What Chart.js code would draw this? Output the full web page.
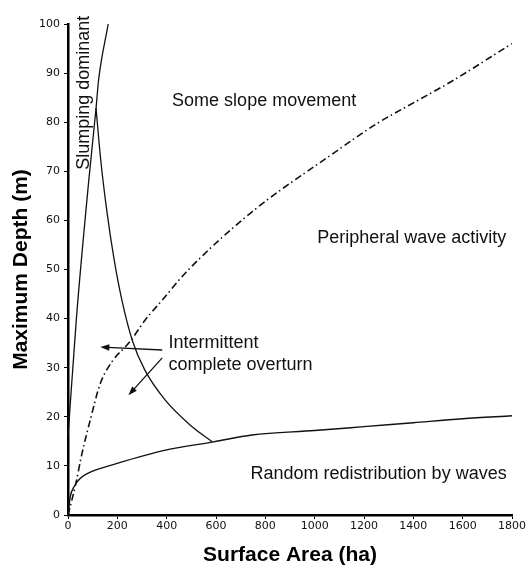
<!DOCTYPE html>
<html lang="en">
<head>
<meta charset="UTF-8">
<title>Maximum depth vs surface area</title>
<script src="https://cdn.jsdelivr.net/npm/chart.js"></script>
<style>
  html, body { margin: 0; padding: 0; background: #fff; }
  .wrap { width: 531px; height: 566px; }
</style>
</head>
<body>
<div class="wrap"><canvas id="depthChart" width="531" height="566"></canvas></div>
<script>
// curves (x = surface area in ha, y = max depth in m)
const slumpX = [0, 34, 84, 114, 124, 163]
const slumpY = [16, 40, 68, 83, 88.6, 100]

const overturnX = [113.6, 132.7, 157, 187.4, 218.3, 260.4, 311.6, 394.3, 496, 585]
const overturnY = [82.9, 72.3, 62.1, 51.9, 43.8, 35.6, 29.5, 23.4, 18.3, 14.9]

const peripheralX = [0, 30, 57, 90, 131, 178, 251, 313, 381, 476, 740, 1077, 1255, 1410, 1551, 1800]
const peripheralY = [0, 6, 12.6, 19.3, 26.8, 31.2, 35.3, 39.7, 43.7, 49.3, 61.5, 73.7, 79.8, 84.2, 88.2, 96]

const randomX = [0, 9, 25, 50, 84, 199, 395, 591, 746, 1000, 1200, 1400, 1600, 1800]
const randomY = [0, 3.7, 5.8, 7.5, 8.6, 10.5, 13.2, 14.9, 16.3, 17.2, 18, 18.8, 19.6, 20.2]

// the two arrows next to "Intermittent complete overturn"
const arrowFrom = [[382, 33.6], [382, 32]]
const arrowTo = [[131, 34.2], [245, 24.4]]

const xTicks = { min: 0, max: 1800, step: 200 }
const yTicks = { min: 0, max: 100, step: 10 }

const toPoints = (xs, ys) => xs.map((x, i) => ({ x, y: ys[i] }))

const TEXT_FONT = '18px "Liberation Sans", Arial, Helvetica, sans-serif'

// labels and arrows drawn on top of the curves
const notes = {
  id: 'notes',
  afterDatasetsDraw(chart) {
    const { ctx, scales: { x, y } } = chart
    const px = (v) => x.getPixelForValue(v)
    const py = (v) => y.getPixelForValue(v)

    ctx.save()
    ctx.fillStyle = '#111'
    ctx.strokeStyle = '#111'
    ctx.font = TEXT_FONT
    ctx.textAlign = 'left'
    ctx.textBaseline = 'alphabetic'

    ctx.fillText('Some slope movement', px(422), py(83.2))
    ctx.fillText('Peripheral wave activity', px(1010), py(55.3))
    ctx.fillText('Intermittent', px(407), py(34))
    ctx.fillText('complete overturn', px(407), py(29.5))
    ctx.fillText('Random redistribution by waves', px(740), py(7.3))

    ctx.save()
    ctx.translate(px(83.6), py(70.3))
    ctx.rotate(-Math.PI / 2)
    ctx.fillText('Slumping dominant', 0, 0)
    ctx.restore()

    // arrows
    ctx.lineWidth = 1.3
    arrowFrom.forEach((from, i) => {
      const x0 = px(from[0]), y0 = py(from[1])
      const x1 = px(arrowTo[i][0]), y1 = py(arrowTo[i][1])
      const ang = Math.atan2(y1 - y0, x1 - x0)
      const len = 9, half = 3.2
      ctx.beginPath()
      ctx.moveTo(x0, y0)
      ctx.lineTo(x1 - Math.cos(ang) * len * 0.8, y1 - Math.sin(ang) * len * 0.8)
      ctx.stroke()
      ctx.beginPath()
      ctx.moveTo(x1, y1)
      ctx.lineTo(x1 - Math.cos(ang) * len - Math.sin(ang) * half, y1 - Math.sin(ang) * len + Math.cos(ang) * half)
      ctx.lineTo(x1 - Math.cos(ang) * len + Math.sin(ang) * half, y1 - Math.sin(ang) * len - Math.cos(ang) * half)
      ctx.closePath()
      ctx.fill()
    })
    ctx.restore()
  },
}

const tickFont = { family: '"DejaVu Sans", Verdana, sans-serif', size: 11 }
const titleFont = { family: '"Liberation Sans", Arial, Helvetica, sans-serif', size: 21, weight: 'bold', lineHeight: 1 }

const ctx = document.getElementById('depthChart').getContext('2d')
new Chart(ctx, {
  type: 'scatter',
  data: {
    datasets: [
      { label: 'Slumping dominant', data: toPoints(slumpX, slumpY), borderColor: '#111', borderWidth: 1.3 },
      { label: 'Intermittent overturn', data: toPoints(overturnX, overturnY), borderColor: '#111', borderWidth: 1.3 },
      { label: 'Peripheral wave activity', data: toPoints(peripheralX, peripheralY), borderColor: '#111', borderWidth: 1.6, borderDash: [7, 3, 1.5, 3.5] },
      { label: 'Random redistribution', data: toPoints(randomX, randomY), borderColor: '#111', borderWidth: 1.4 },
    ],
  },
  options: {
    responsive: false,
    animation: false,
    events: [],
    layout: { padding: { top: 24, right: 19, left: 0, bottom: 0 } },
    elements: {
      point: { radius: 0 },
      line: { cubicInterpolationMode: 'monotone', fill: false },
    },
    datasets: { scatter: { showLine: true } },
    plugins: { legend: { display: false }, tooltip: { enabled: false } },
    scales: {
      x: {
        type: 'linear',
        min: xTicks.min,
        max: xTicks.max,
        afterFit: (s) => { s.height = 51 },
        ticks: { stepSize: xTicks.step, color: '#111', font: tickFont, padding: 1, maxRotation: 0, autoSkip: false, callback: (v) => String(v) },
        grid: { drawOnChartArea: false, drawTicks: true, tickLength: 4, color: '#000', lineWidth: 1 },
        border: { color: '#000', width: 2.5 },
        title: { display: true, text: 'Surface Area (ha)', color: '#000', font: titleFont, padding: { top: 0, bottom: 0 } },
      },
      y: {
        type: 'linear',
        min: yTicks.min,
        max: yTicks.max,
        afterFit: (s) => { s.width = 68 },
        ticks: { stepSize: yTicks.step, color: '#111', font: tickFont, padding: 4, callback: (v) => String(v) },
        grid: { drawOnChartArea: false, drawTicks: true, tickLength: 4, color: '#000', lineWidth: 1 },
        border: { color: '#000', width: 2.5 },
        title: { display: true, text: 'Maximum Depth (m)', color: '#000', font: titleFont, padding: { top: 11, bottom: 0 } },
      },
    },
  },
  plugins: [notes],
})
</script>
</body>
</html>
